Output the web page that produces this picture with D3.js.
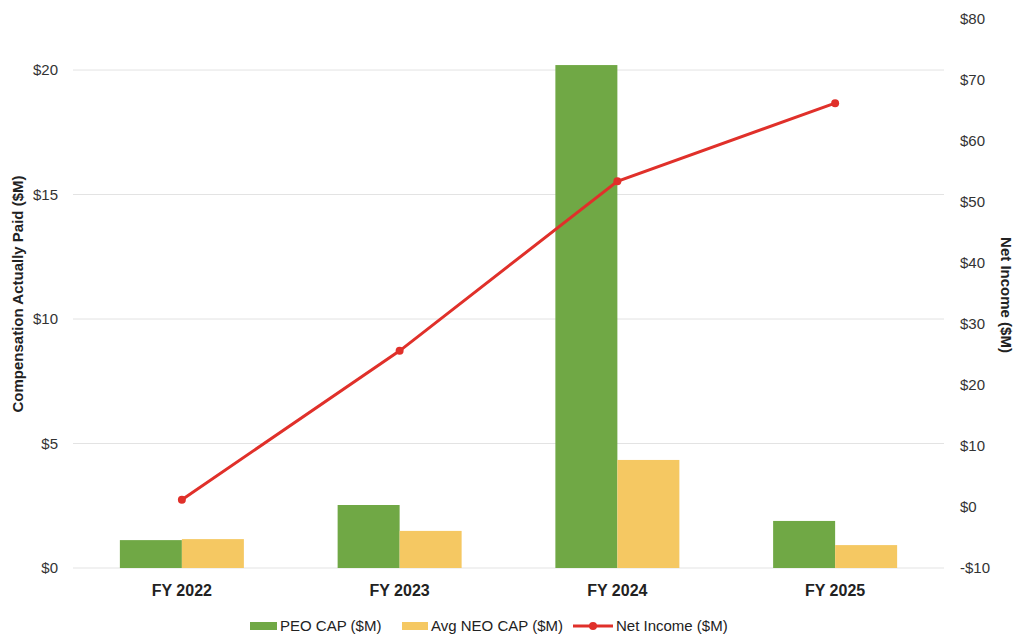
<!DOCTYPE html>
<html>
<head>
<meta charset="utf-8">
<script src="https://cdn.jsdelivr.net/npm/d3@7"></script>
<style>
  body { margin: 0; background: #fff; }
  svg { display: block; }
</style>
</head>
<body>
<svg id="chart" width="1016" height="637"></svg>
<script>
const years = ["FY 2022", "FY 2023", "FY 2024", "FY 2025"];
const peoCap = [1.12, 2.53, 20.2, 1.89];
const neoCap = [1.16, 1.49, 4.34, 0.92];
const netIncome = [1.2, 25.6, 53.4, 66.2];
const leftTicks = [0, 5, 10, 15, 20];
const rightTicks = [-10, 0, 10, 20, 30, 40, 50, 60, 70, 80];

const svg = d3.select("#chart");
const plotL = 73, plotR = 944, plotT = 19, plotB = 568;

const x = d3.scaleBand().domain(years).range([plotL, plotR]).paddingInner(0).paddingOuter(0);
const yL = d3.scaleLinear().domain([0, 22.05]).range([plotB, plotT]);
const yR = d3.scaleLinear().domain([-10, 80]).range([plotB, plotT]);

const barW = 62;
const green = "#70a845", yellow = "#f5c862", red = "#e0302a";
const font = "'Liberation Sans', Arial, sans-serif";
const narrow = "'Liberation Sans Narrow', 'Liberation Sans', Arial, sans-serif";

// gridlines on left ticks
svg.append("g")
  .selectAll("line")
  .data(leftTicks)
  .join("line")
  .attr("x1", plotL).attr("x2", plotR)
  .attr("y1", d => yL(d)).attr("y2", d => yL(d))
  .attr("stroke", "#e3e3e3")
  .attr("stroke-width", 1);

// left axis labels
svg.append("g")
  .selectAll("text")
  .data(leftTicks)
  .join("text")
  .attr("x", 58)
  .attr("y", d => yL(d))
  .attr("dy", "0.35em")
  .attr("text-anchor", "end")
  .attr("fill", "#333")
  .style("font-family", font)
  .style("font-size", "15px")
  .text(d => `$${d}`);

// right axis labels
svg.append("g")
  .selectAll("text")
  .data(rightTicks)
  .join("text")
  .attr("x", 960)
  .attr("y", d => yR(d))
  .attr("dy", "0.35em")
  .attr("fill", "#333")
  .style("font-family", font)
  .style("font-size", "15px")
  .text(d => d < 0 ? `-$${-d}` : `$${d}`);

// bars
const bars = svg.append("g");
bars.selectAll("rect.peo")
  .data(years)
  .join("rect")
  .attr("class", "peo")
  .attr("x", d => x(d) + x.bandwidth() / 2 - barW)
  .attr("width", barW)
  .attr("y", (d, i) => yL(peoCap[i]))
  .attr("height", (d, i) => yL(0) - yL(peoCap[i]))
  .attr("fill", green);

bars.selectAll("rect.neo")
  .data(years)
  .join("rect")
  .attr("class", "neo")
  .attr("x", d => x(d) + x.bandwidth() / 2)
  .attr("width", barW)
  .attr("y", (d, i) => yL(neoCap[i]))
  .attr("height", (d, i) => yL(0) - yL(neoCap[i]))
  .attr("fill", yellow);

// net income line
const line = d3.line()
  .x((d, i) => x(years[i]) + x.bandwidth() / 2)
  .y(d => yR(d));

svg.append("path")
  .datum(netIncome)
  .attr("d", line)
  .attr("fill", "none")
  .attr("stroke", red)
  .attr("stroke-width", 3);

svg.append("g")
  .selectAll("circle")
  .data(netIncome)
  .join("circle")
  .attr("cx", (d, i) => x(years[i]) + x.bandwidth() / 2)
  .attr("cy", d => yR(d))
  .attr("r", 4)
  .attr("fill", red);

// category labels
svg.append("g")
  .selectAll("text")
  .data(years)
  .join("text")
  .attr("x", d => x(d) + x.bandwidth() / 2)
  .attr("y", 596)
  .attr("text-anchor", "middle")
  .attr("fill", "#222")
  .style("font-family", narrow)
  .style("font-weight", "bold")
  .style("font-size", "16px")
  .text(d => d);

// axis titles
svg.append("text")
  .attr("transform", `translate(23,294) rotate(-90)`)
  .attr("text-anchor", "middle")
  .attr("fill", "#222")
  .style("font-family", narrow)
  .style("font-weight", "bold")
  .style("font-size", "15px")
  .text("Compensation Actually Paid ($M)");

svg.append("text")
  .attr("transform", `translate(1001,295) rotate(90)`)
  .attr("text-anchor", "middle")
  .attr("fill", "#222")
  .style("font-family", narrow)
  .style("font-weight", "bold")
  .style("font-size", "15px")
  .text("Net Income ($M)");

// legend
const legend = svg.append("g").style("font-family", narrow).style("font-size", "15px").attr("fill", "#222");
legend.append("rect").attr("x", 250).attr("y", 622).attr("width", 27).attr("height", 8).attr("fill", green);
legend.append("text").attr("x", 280).attr("y", 631).text("PEO CAP ($M)");
legend.append("rect").attr("x", 402).attr("y", 622).attr("width", 26).attr("height", 8).attr("fill", yellow);
legend.append("text").attr("x", 431).attr("y", 631).text("Avg NEO CAP ($M)");
legend.append("line").attr("x1", 573).attr("x2", 613).attr("y1", 626).attr("y2", 626).attr("stroke", red).attr("stroke-width", 3);
legend.append("circle").attr("cx", 593).attr("cy", 626).attr("r", 4).attr("fill", red);
legend.append("text").attr("x", 616).attr("y", 631).text("Net Income ($M)");
</script>
</body>
</html>
